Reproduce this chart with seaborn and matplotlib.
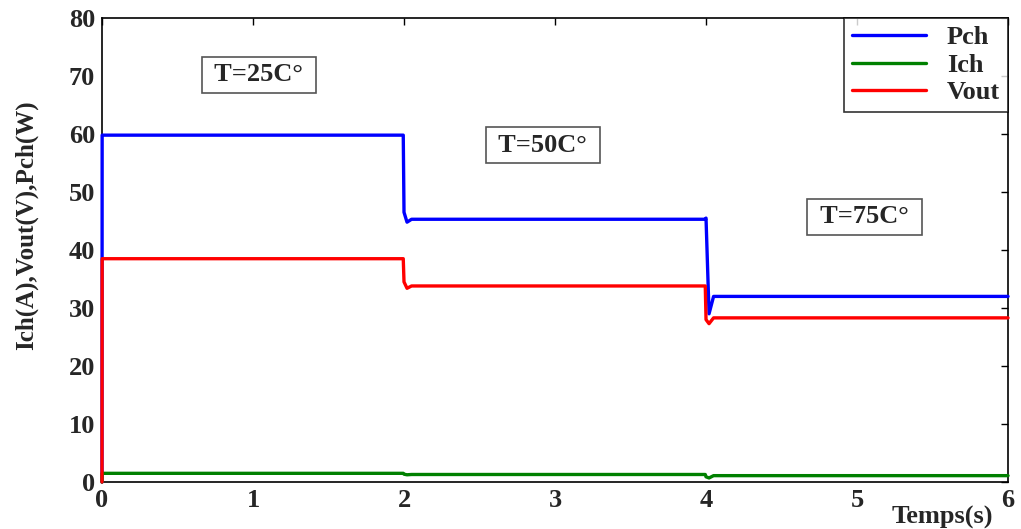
import matplotlib
matplotlib.use("Agg")
import matplotlib.pyplot as plt
import seaborn as sns
import pandas as pd

# Time samples (s) of the simulated step response
time = [0.0, 0.001, 1.995, 2.0, 2.02, 2.05, 3.995, 4.0, 4.02, 4.05, 6.0]
# Series values
pch = [0.0, 59.8, 59.8, 46.5, 44.8, 45.3, 45.3, 45.5, 29.0, 32.0, 32.0]
ich = [0.0, 1.5, 1.5, 1.35, 1.25, 1.3, 1.3, 0.9, 0.7, 1.1, 1.1]
vout = [0.0, 38.5, 38.5, 34.5, 33.4, 33.8, 33.8, 28.0, 27.3, 28.3, 28.3]
series_names = ["Pch", "Ich", "Vout"]
series_colors = ["#0000ff", "#008000", "#ff0000"]

temps_labels = ["T=25C°", "T=50C°", "T=75C°"]
temps_pos_x = [1.04, 2.92, 5.05]
temps_pos_y = [70.2, 58.1, 45.7]

rows = []
for name, vals in zip(series_names, [pch, ich, vout]):
    for t, v in zip(time, vals):
        rows.append({"t": t, "val": v, "serie": name})
df = pd.DataFrame(rows)

sns.set_theme(style="white")
plt.rcParams["font.family"] = ["Liberation Serif", "DejaVu Serif"]
plt.rcParams["font.weight"] = "bold"

fig = plt.figure(figsize=(10.21, 5.29), dpi=100)
ax = fig.add_axes([0.0999, 0.0888, 0.8874, 0.8772])

sns.lineplot(data=df, x="t", y="val", hue="serie", hue_order=series_names,
             palette=series_colors, estimator=None, sort=False, lw=2.4, ax=ax)
for ln in ax.get_lines():
    ln.set_clip_on(False)
    ln.set_zorder(3)

ax.set_xlim(0, 6)
ax.set_ylim(0, 80)
ax.set_xticks(range(0, 7))
ax.set_yticks(range(0, 81, 10))
ax.tick_params(direction="in", length=5, width=1, labelsize=19, color="black",
               top=True, right=True, pad=5)
for lab in ax.get_xticklabels() + ax.get_yticklabels():
    lab.set_fontweight("bold")
for s in ax.spines.values():
    s.set_color("black")
    s.set_linewidth(1.2)
    s.set_zorder(2)

ax.set_xlabel("Temps(s)", fontsize=19, fontweight="bold")
ax.xaxis.set_label_coords(0.928, -0.052)
ax.set_ylabel("Ich(A),Vout(V),Pch(W)", fontsize=18, fontweight="bold")
ax.yaxis.set_label_coords(-0.071, 0.554)

for lab, x, y in zip(temps_labels, temps_pos_x, temps_pos_y):
    ax.text(x, y, " " + lab + " ", fontsize=19, fontweight="bold", ha="center", va="center",
            bbox=dict(boxstyle="square,pad=0.25", fc="white", ec="#555555", lw=1.2))

leg = ax.legend(loc="upper right", frameon=True, fancybox=False,
                borderaxespad=0.0, handlelength=2.8, labelspacing=0.15,
                borderpad=0.3, prop={"weight": "bold", "size": 19})
leg.get_frame().set_edgecolor("black")
leg.get_frame().set_linewidth(1.2)
leg.set_zorder(5)
leg.set_title(None)

fig.savefig("out.png", dpi=100)
